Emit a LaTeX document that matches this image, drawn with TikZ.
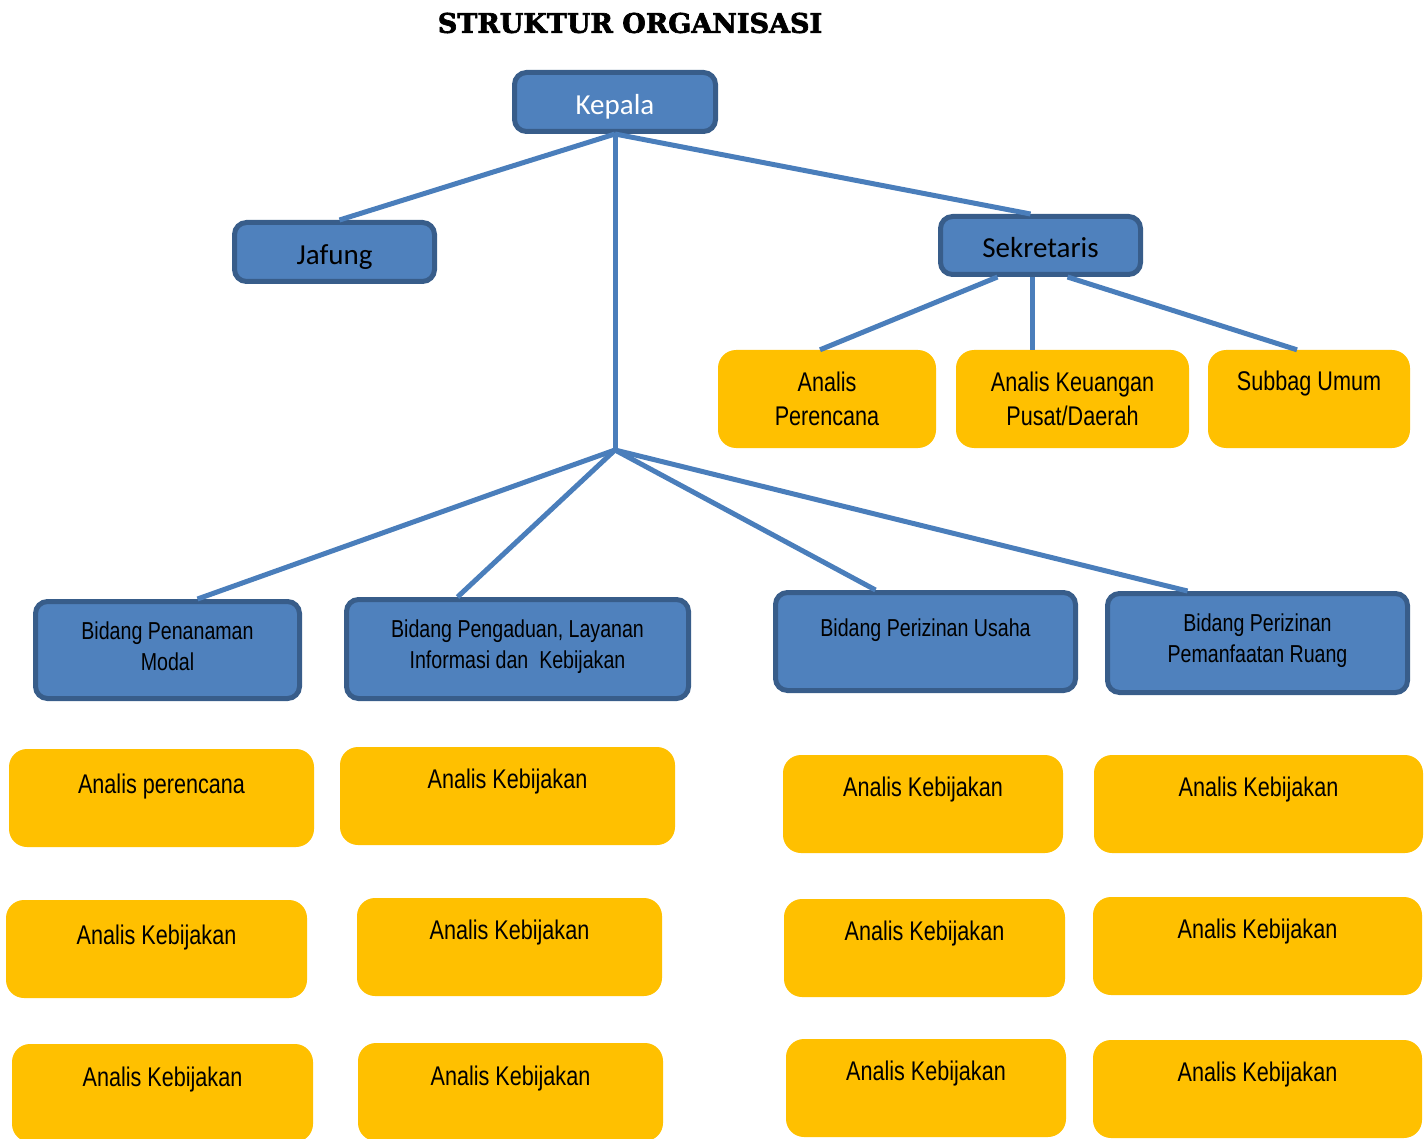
\documentclass[tikz,border=0pt]{standalone}
\usepackage{fontspec}
\setmainfont{Liberation Sans}[FakeStretch=0.8]
\newfontfamily\calfont{Carlito}
\newfontfamily\headfont{DejaVu Serif}[BoldFeatures={FakeBold=2.5}]
\usepackage{tikz}
\definecolor{boxblue}{HTML}{4F81BD}
\definecolor{edgeblue}{HTML}{385D8A}
\definecolor{lineblue}{HTML}{4A7EBB}
\definecolor{boxyellow}{HTML}{FFC000}
\tikzset{
    x=1pt, y=-1pt, % pixel grid of the chart
    }

\begin{document}
\begin{tikzpicture}[
bluebox/.style={rectangle, rounded corners=12pt, fill=boxblue, draw=edgeblue, line width=5pt, inner sep=0pt},
yellowbox/.style={rectangle, rounded corners=18pt, fill=boxyellow, inner sep=0pt},
toptext/.style={font=\calfont\fontsize{29}{34}\selectfont, text height=25pt, text depth=0pt},
yeltext/.style={font=\fontsize{27}{34}\selectfont, align=center},
bidtext/.style={font=\fontsize{24.5}{31}\selectfont, align=center},
link/.style={draw=lineblue, line width=5pt},
]
\useasboundingbox (0,0) rectangle (1424,1139);

\node[font=\headfont\bfseries\fontsize{27}{30}\selectfont] (title) at (630,23) {STRUKTUR ORGANISASI};

% top level
\node[bluebox, toptext, text=white, minimum width=201, minimum height=59] (kepala) at (615,102) {Kepala};
\node[bluebox, toptext, minimum width=200, minimum height=59] (jafung) at (334.5,252) {Jafung};
\node[bluebox, toptext, minimum width=200, minimum height=58] (sekretaris) at (1040.5,245.5) {Sekretaris};

% under sekretaris
\node[yellowbox, yeltext, minimum width=218, minimum height=98] (perencana) at (827,399) {Analis\\Perencana};
\node[yellowbox, yeltext, minimum width=233, minimum height=98] (keuangan) at (1072.5,399) {Analis Keuangan\\Pusat/Daerah};
\node[yellowbox, minimum width=202, minimum height=98, label={[yeltext, yshift=15pt]center:{Subbag Umum}}] (umum) at (1309,399) {};

% bidang
\coordinate (hub) at (615,450);
\node[bluebox, minimum width=264, minimum height=97, label={[bidtext, yshift=4pt]center:{Bidang Penanaman\\Modal}}] (modal) at (167.5,650) {};
\node[bluebox, minimum width=342, minimum height=99, label={[bidtext, yshift=2.5pt]center:{Bidang Pengaduan, Layanan\\Informasi dan\ \ Kebijakan}}] (pengaduan) at (517.5,649) {};
\node[bluebox, minimum width=300, minimum height=98, label={[bidtext, yshift=11.5pt]center:{Bidang Perizinan Usaha}}] (usaha) at (925.5,641.5) {};
\node[bluebox, minimum width=300, minimum height=99, label={[bidtext, yshift=2pt]center:{Bidang Perizinan\\Pemanfaatan Ruang}}] (ruang) at (1257.5,643) {};

% staff rows
\node[yellowbox, minimum width=305, minimum height=98, label={[yeltext, yshift=11pt]center:{Analis perencana}}] (modalA) at (161.5,798) {};
\node[yellowbox, minimum width=301, minimum height=98, label={[yeltext, yshift=11pt]center:{Analis Kebijakan}}] (modalB) at (156.5,949) {};
\node[yellowbox, minimum width=301, minimum height=98, label={[yeltext, yshift=13pt]center:{Analis Kebijakan}}] (modalC) at (162.5,1093) {};

\node[yellowbox, minimum width=335, minimum height=98, label={[yeltext, yshift=14pt]center:{Analis Kebijakan}}] (pengaduanA) at (507.5,796) {};
\node[yellowbox, minimum width=305, minimum height=98, label={[yeltext, yshift=14pt]center:{Analis Kebijakan}}] (pengaduanB) at (509.5,947) {};
\node[yellowbox, minimum width=305, minimum height=98, label={[yeltext, yshift=13pt]center:{Analis Kebijakan}}] (pengaduanC) at (510.5,1092) {};

\node[yellowbox, minimum width=280, minimum height=98, label={[yeltext, yshift=14pt]center:{Analis Kebijakan}}] (usahaA) at (923,804) {};
\node[yellowbox, minimum width=281, minimum height=98, label={[yeltext, yshift=14pt]center:{Analis Kebijakan}}] (usahaB) at (924.5,948) {};
\node[yellowbox, minimum width=280, minimum height=98, label={[yeltext, yshift=14pt]center:{Analis Kebijakan}}] (usahaC) at (926,1088) {};

\node[yellowbox, minimum width=329, minimum height=98, label={[yeltext, yshift=14pt]center:{Analis Kebijakan}}] (ruangA) at (1258.5,804) {};
\node[yellowbox, minimum width=329, minimum height=98, label={[yeltext, yshift=14pt]center:{Analis Kebijakan}}] (ruangB) at (1257.5,946) {};
\node[yellowbox, minimum width=329, minimum height=98, label={[yeltext, yshift=14pt]center:{Analis Kebijakan}}] (ruangC) at (1257.5,1089) {};

% connectors
\draw[link] (kepala.south) -- ([xshift=5pt]jafung.north);
\draw[link] (kepala.south) -- ([xshift=-10pt]sekretaris.north);
\draw[link] (kepala.south) -- (hub);
\draw[link] (hub) -- ([xshift=30pt]modal.north);
\draw[link] (hub) -- ([xshift=-60pt]pengaduan.north);
\draw[link] (hub) -- ([xshift=-50pt]usaha.north);
\draw[link] (hub) -- ([xshift=-70pt]ruang.north);
\draw[link] ([xshift=-43pt]sekretaris.south) -- ([xshift=-7pt]perencana.north);
\draw[link] ([xshift=-8pt]sekretaris.south) -- ([xshift=-40pt]keuangan.north);
\draw[link] ([xshift=27pt]sekretaris.south) -- ([xshift=-12pt]umum.north);
\end{tikzpicture}
\end{document}
